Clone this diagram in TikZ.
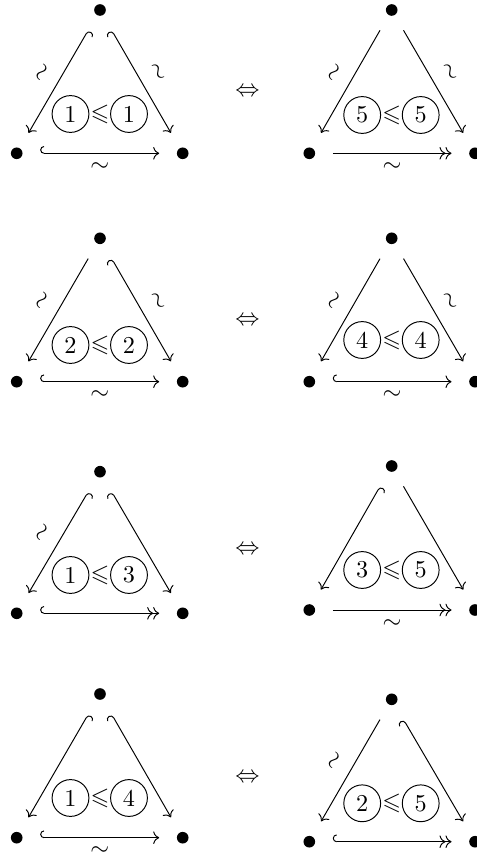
\documentclass[tikz,border=0pt]{standalone}
\usepackage{amssymb}
\usetikzlibrary{arrows.meta}
\tikzset{
  dotnode/.style={circle, inner sep=0pt, minimum size=19pt,
    path picture={\fill (path picture bounding box.center) circle (2.4pt);}},
  circ/.style={circle, draw, line width=0.4pt, inner sep=0pt, minimum size=15.2pt},
  rel/.style={inner sep=0pt},
  plainar/.style={line width=0.4pt, arrows={->}},
  plainepi/.style={line width=0.4pt, arrows={->>}},
  hookla/.style={line width=0.4pt, arrows={{Hooks[right, width=6pt, length=1.6pt]}->}},
  hookra/.style={line width=0.4pt, arrows={{Hooks[left, width=6pt, length=1.6pt]}->}},
  hooklepi/.style={line width=0.4pt, arrows={{Hooks[right, width=6pt, length=1.6pt]}->>}},
  sl/.style={midway, sloped, above=5.3pt, inner sep=0pt},
  bl/.style={midway, below=3.6pt, inner sep=0pt},
}
\begin{document}
\begin{tikzpicture}[x=0.413pt, y=-0.413pt, >={Computer Modern Rightarrow}]
\useasboundingbox (0,0) rectangle (477,857);
% equivalences
\node[rel] (e1) at (247.5,92.5) {$\Leftrightarrow$};
\node[rel] (e2) at (247.5,321) {$\Leftrightarrow$};
\node[rel] (e3) at (247.5,550) {$\Leftrightarrow$};
\node[rel] (e4) at (247.5,778.5) {$\Leftrightarrow$};
% D1
\node[dotnode] (t1) at (100,10) {};
\node[dotnode] (l1) at (16.7,153.3) {};
\node[dotnode] (r1) at (182.7,153.3) {};
\node[rel] (m1) at (100,114) {$\leqslant$};
\node[circ] (a1) at (70.5,114) {1};
\node[circ] (b1) at (129,114) {1};
\draw[hookla] (t1) -- node[sl] {$\sim$} (l1);
\draw[hookra] (t1) -- node[sl] {$\sim$} (r1);
\draw[hookla] (l1) -- node[bl] {$\sim$} (r1);
% D2
\node[dotnode] (t2) at (391.7,10) {};
\node[dotnode] (l2) at (309.3,153.3) {};
\node[dotnode] (r2) at (475,153.3) {};
\node[rel] (m2) at (391.7,115) {$\leqslant$};
\node[circ] (a2) at (362.2,115) {5};
\node[circ] (b2) at (420.7,115) {5};
\draw[plainar] (t2) -- node[sl] {$\sim$} (l2);
\draw[plainar] (t2) -- node[sl] {$\sim$} (r2);
\draw[plainepi] (l2) -- node[bl] {$\sim$} (r2);
% D3
\node[dotnode] (t3) at (100,238.3) {};
\node[dotnode] (l3) at (16.7,381.7) {};
\node[dotnode] (r3) at (182.7,381.7) {};
\node[rel] (m3) at (100,345) {$\leqslant$};
\node[circ] (a3) at (70.5,345) {2};
\node[circ] (b3) at (129,345) {2};
\draw[plainar] (t3) -- node[sl] {$\sim$} (l3);
\draw[hookra] (t3) -- node[sl] {$\sim$} (r3);
\draw[hookla] (l3) -- node[bl] {$\sim$} (r3);
% D4
\node[dotnode] (t4) at (391.7,238.3) {};
\node[dotnode] (l4) at (309.3,381.7) {};
\node[dotnode] (r4) at (475,381.7) {};
\node[rel] (m4) at (391.7,340) {$\leqslant$};
\node[circ] (a4) at (362.2,340) {4};
\node[circ] (b4) at (420.7,340) {4};
\draw[plainar] (t4) -- node[sl] {$\sim$} (l4);
\draw[plainar] (t4) -- node[sl] {$\sim$} (r4);
\draw[hookla] (l4) -- node[bl] {$\sim$} (r4);
% D5
\node[dotnode] (t5) at (100,471.7) {};
\node[dotnode] (l5) at (16.7,613.3) {};
\node[dotnode] (r5) at (182.7,613.3) {};
\node[rel] (m5) at (100,575) {$\leqslant$};
\node[circ] (a5) at (70.5,575) {1};
\node[circ] (b5) at (129,575) {3};
\draw[hookla] (t5) -- node[sl] {$\sim$} (l5);
\draw[hookra] (t5) -- (r5);
\draw[hooklepi] (l5) -- (r5);
% D6
\node[dotnode] (t6) at (391.7,466) {};
\node[dotnode] (l6) at (309.3,610) {};
\node[dotnode] (r6) at (475,610) {};
\node[rel] (m6) at (391.7,570) {$\leqslant$};
\node[circ] (a6) at (362.2,570) {3};
\node[circ] (b6) at (420.7,570) {5};
\draw[hookla] (t6) -- (l6);
\draw[plainar] (t6) -- (r6);
\draw[plainepi] (l6) -- node[bl] {$\sim$} (r6);
% D7
\node[dotnode] (t7) at (100,694) {};
\node[dotnode] (l7) at (16.7,837.7) {};
\node[dotnode] (r7) at (182.7,837.7) {};
\node[rel] (m7) at (100,798) {$\leqslant$};
\node[circ] (a7) at (70.5,798) {1};
\node[circ] (b7) at (129,798) {4};
\draw[hookla] (t7) -- (l7);
\draw[hookra] (t7) -- (r7);
\draw[hookla] (l7) -- node[bl] {$\sim$} (r7);
% D8
\node[dotnode] (t8) at (391.7,699.3) {};
\node[dotnode] (l8) at (309.3,841.7) {};
\node[dotnode] (r8) at (475,841.7) {};
\node[rel] (m8) at (391.7,803.3) {$\leqslant$};
\node[circ] (a8) at (362.2,803.3) {2};
\node[circ] (b8) at (420.7,803.3) {5};
\draw[plainar] (t8) -- node[sl] {$\sim$} (l8);
\draw[hookra] (t8) -- (r8);
\draw[hooklepi] (l8) -- (r8);
\end{tikzpicture}
\end{document}
